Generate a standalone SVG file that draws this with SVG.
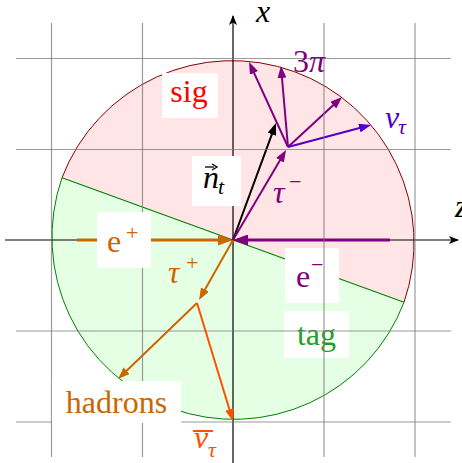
<svg xmlns="http://www.w3.org/2000/svg" width="462" height="463" viewBox="0 0 462 463">
<style>
.t{font-family:'Liberation Serif','DejaVu Serif',serif;font-size:32px}
.s{font-family:'Liberation Serif','DejaVu Serif',serif;font-size:22px}
.i{font-style:italic}
.grid line{stroke:#7a7a7a;stroke-opacity:0.75;stroke-width:1.2}
.box{fill:#fff}
.ax{stroke:#000;stroke-width:1.2;fill:none}
</style>
<defs>
<marker id="mAx" viewBox="0 0 10 8" refX="9" refY="4" markerWidth="10" markerHeight="8" markerUnits="userSpaceOnUse" orient="auto"><path d="M0,0 L10,4 L0,8 L2.5,4 Z" fill="#000"/></marker>
<marker id="mBk" viewBox="0 0 12 9" refX="8" refY="4.5" markerWidth="12" markerHeight="9" markerUnits="userSpaceOnUse" orient="auto"><path d="M0,0 L12,4.5 L0,9 Z" fill="#000"/></marker>
<marker id="mPu" viewBox="0 0 12 9" refX="8" refY="4.5" markerWidth="12" markerHeight="9" markerUnits="userSpaceOnUse" orient="auto"><path d="M0,0 L12,4.5 L0,9 Z" fill="#800080"/></marker>
<marker id="mVi" viewBox="0 0 12 9" refX="8" refY="4.5" markerWidth="12" markerHeight="9" markerUnits="userSpaceOnUse" orient="auto"><path d="M0,0 L12,4.5 L0,9 Z" fill="#5000c8"/></marker>
<marker id="mOr" viewBox="0 0 12 9" refX="8" refY="4.5" markerWidth="12" markerHeight="9" markerUnits="userSpaceOnUse" orient="auto"><path d="M0,0 L12,4.5 L0,9 Z" fill="#cc6600"/></marker>
<marker id="mRo" viewBox="0 0 12 9" refX="8" refY="4.5" markerWidth="12" markerHeight="9" markerUnits="userSpaceOnUse" orient="auto"><path d="M0,0 L12,4.5 L0,9 Z" fill="#ff5000"/></marker>
<marker id="mOrH" viewBox="0 0 15 11" refX="11" refY="5.5" markerWidth="15" markerHeight="11" markerUnits="userSpaceOnUse" orient="auto"><path d="M0,0 L15,5.5 L0,11 Z" fill="#cc6600"/></marker>
<marker id="mPuH" viewBox="0 0 15 11" refX="11" refY="5.5" markerWidth="15" markerHeight="11" markerUnits="userSpaceOnUse" orient="auto"><path d="M0,0 L15,5.5 L0,11 Z" fill="#800080"/></marker>
</defs>

<g id="regions">
<path id="sig-region" d="M62,177.75 A182,182 0 0 1 404,302.25 Z" fill="#ffe5e5" stroke="none"/>
<path id="tag-region" d="M404,302.25 A182,182 0 0 1 62,177.75 Z" fill="#e5ffe5" stroke="none"/>
<path d="M62,177.75 A182,182 0 0 1 404,302.25" fill="none" stroke="#8b0000" stroke-width="1"/>
<path d="M404,302.25 A182,182 0 0 1 62,177.75" fill="none" stroke="#008000" stroke-width="1"/>
<line x1="62" y1="177.75" x2="404" y2="302.25" stroke="#008000" stroke-width="1.2"/>
</g>

<g id="axes">
<line class="ax" x1="5" y1="240" x2="458" y2="240" marker-end="url(#mAx)"/>
<line class="ax" x1="233" y1="463" x2="233" y2="16" marker-end="url(#mAx)"/>
<text class="t i" x="256" y="22">x</text>
<text class="t i" x="455" y="217">z</text>
</g>

<g id="connectors" fill="none" stroke-linecap="butt">
<line x1="77" y1="240" x2="229" y2="240" stroke="#cc6600" stroke-width="3" marker-end="url(#mOrH)"/>
<line x1="390" y1="240" x2="237" y2="240" stroke="#800080" stroke-width="3" marker-end="url(#mPuH)"/>
<line x1="233" y1="240" x2="274.6" y2="126.8" stroke="#000" stroke-width="2" marker-end="url(#mBk)"/>
<line x1="233" y1="240" x2="284" y2="153.4" stroke="#800080" stroke-width="2" marker-end="url(#mPu)"/>
<line x1="288" y1="147" x2="250.7" y2="65.6" stroke="#800080" stroke-width="2" marker-end="url(#mPu)"/>
<line x1="288" y1="147" x2="281.3" y2="70" stroke="#800080" stroke-width="2" marker-end="url(#mPu)"/>
<line x1="288" y1="147" x2="339.1" y2="99.7" stroke="#800080" stroke-width="2" marker-end="url(#mPu)"/>
<line x1="288" y1="147" x2="367.1" y2="126" stroke="#5000c8" stroke-width="2" marker-end="url(#mVi)"/>
<line x1="233" y1="240" x2="201" y2="296.5" stroke="#cc6600" stroke-width="2" marker-end="url(#mOr)"/>
<line x1="197" y1="303" x2="120.9" y2="376.2" stroke="#cc6600" stroke-width="2" marker-end="url(#mOr)"/>
<line x1="197" y1="303" x2="231.8" y2="417.2" stroke="#ff5000" stroke-width="2" marker-end="url(#mRo)"/>
</g>

<g id="node-sig">
<rect class="box" x="162" y="73" width="56" height="45"/>
<text class="t" x="189" y="102" text-anchor="middle" fill="#ff0000">sig</text>
</g>
<g id="node-nt">
<rect class="box" x="192" y="156" width="49" height="50"/>
<text class="t i" x="203" y="188" fill="#000">n</text>
<line x1="205" y1="167" x2="214" y2="167" stroke="#000" stroke-width="1.3"/>
<path d="M212,164 L217,167 L212,170" fill="none" stroke="#000" stroke-width="1.3"/>
<text class="s i" x="218" y="194" fill="#000">t</text>
</g>
<g id="node-eminus">
<rect class="box" x="285" y="248" width="54" height="55"/>
<text class="t" x="296" y="287" fill="#800080">e</text>
<text class="s" x="311" y="272" fill="#800080">−</text>
</g>
<g id="node-tag">
<rect class="box" x="284" y="311" width="65" height="47"/>
<text class="t" x="316.5" y="345" text-anchor="middle" fill="#1f9f1f">tag</text>
</g>

<g id="grid" class="grid">
<line x1="51.5" y1="23" x2="51.5" y2="457"/>
<line x1="142.5" y1="23" x2="142.5" y2="457"/>
<line x1="324" y1="23" x2="324" y2="457"/>
<line x1="415" y1="23" x2="415" y2="457"/>
<line x1="16" y1="58.5" x2="451" y2="58.5"/>
<line x1="16" y1="149.5" x2="451" y2="149.5"/>
<line x1="16" y1="331" x2="451" y2="331"/>
<line x1="16" y1="422" x2="451" y2="422"/>
</g>

<g id="node-eplus">
<rect class="box" x="97" y="212" width="54" height="56"/>
<text class="t" x="107" y="252" fill="#cc6600">e</text>
<text class="s" x="126" y="240" fill="#cc6600">+</text>
</g>
<g id="node-hadrons">
<rect class="box" x="52" y="381" width="129" height="42"/>
<text class="t" x="116.5" y="413" text-anchor="middle" fill="#cc6600">hadrons</text>
</g>

<g id="labels">
<text class="t" x="293" y="72" fill="#800080">3<tspan class="i">π</tspan></text>
<text class="t i" x="385" y="128" fill="#5000c8">ν</text>
<text class="s i" x="398" y="134" fill="#5000c8">τ</text>
<text class="t i" x="273" y="203" fill="#800080">τ</text>
<text class="s" x="289" y="189" fill="#800080">−</text>
<text class="t i" x="168" y="283" fill="#cc6600">τ</text>
<text class="s" x="186" y="270" fill="#cc6600">+</text>
<line x1="193" y1="431" x2="213" y2="431" stroke="#ff5000" stroke-width="2"/>
<text class="t i" x="194" y="448" fill="#ff5000">ν</text>
<text class="s i" x="208" y="457" fill="#ff5000">τ</text>
</g>
</svg>
